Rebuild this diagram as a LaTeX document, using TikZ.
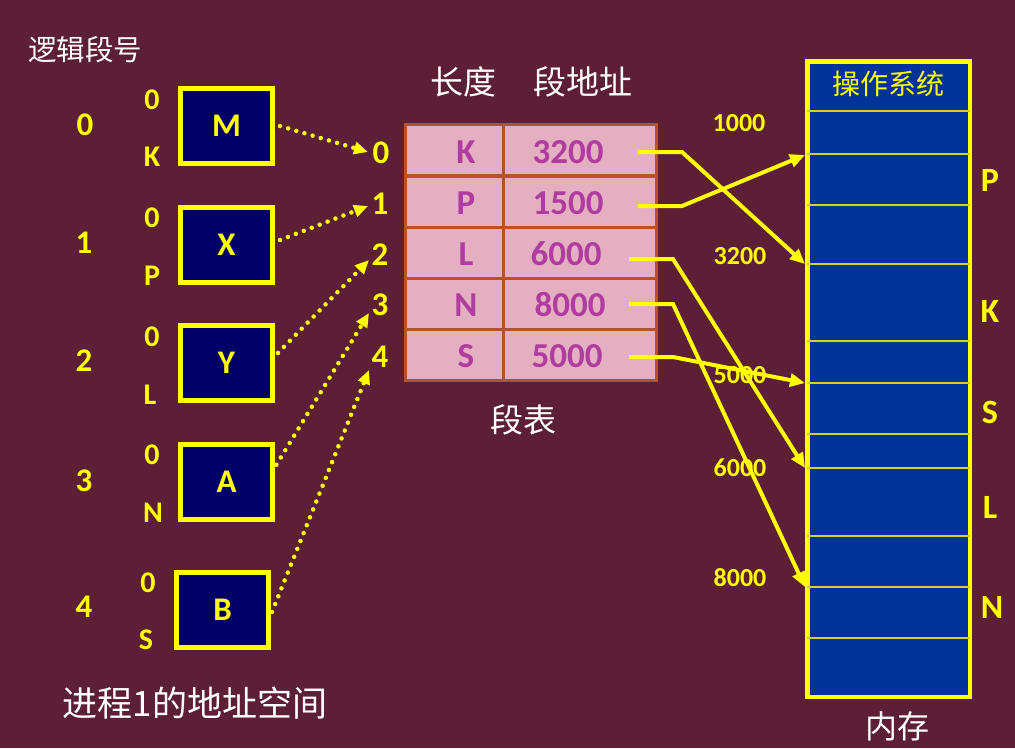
\documentclass[tikz,border=0pt]{standalone}
\usepackage{fontspec}
\setmainfont{Carlito}
\newfontfamily\cjk{Noto Sans CJK SC}
\usetikzlibrary{arrows.meta}
\definecolor{bg}{RGB}{92,31,53}
\definecolor{ylw}{RGB}{255,255,0}
\definecolor{navy}{RGB}{0,0,102}
\definecolor{memblue}{RGB}{0,51,153}
\definecolor{tabfill}{RGB}{228,175,193}
\definecolor{tabline}{RGB}{184,80,40}
\definecolor{tabtext}{RGB}{176,60,160}
\begin{document}
\begin{tikzpicture}[x=1pt,y=-1pt,
  lbl/.style={text=ylw,font=\fontsize{30}{30}\selectfont\bfseries,inner sep=0pt},
  idx/.style={text=ylw,font=\fontsize{33}{33}\selectfont\bfseries,inner sep=0pt},
  segbox/.style={draw=ylw,line width=5pt,fill=navy,minimum width=92pt,minimum height=75pt,
    inner sep=0pt,text=ylw,font=\fontsize{33}{33}\selectfont\bfseries},
  cell/.style={draw=tabline,line width=3pt,fill=tabfill,minimum height=51pt,inner sep=0pt},
  tabtxt/.style={text=tabtext,font=\fontsize{35}{35}\selectfont\bfseries,inner sep=0pt},
  addr/.style={text=ylw,font=\fontsize{26}{26}\selectfont\bfseries,inner sep=0pt},
  memlbl/.style={text=ylw,font=\fontsize{34}{34}\selectfont\bfseries,inner sep=0pt},
  cjkw/.style={text=white,inner sep=0pt},
  memline/.style={draw=ylw!80!memblue,line width=1.5pt},
  sarrow/.style={draw=ylw,line width=4pt,-{Triangle[length=15pt,width=13pt]}},
  darrow/.style={draw=ylw,line width=4.5pt,line cap=round,dash pattern=on 0pt off 8.5pt,
    -{Triangle[length=14pt,width=12pt]}}
]
\fill[bg] (0,0) rectangle (1015,748);
\useasboundingbox (0,0) rectangle (1015,748);

% titles
\node[cjkw,font=\cjk\fontsize{28.5}{28.5}\selectfont] (tLogic) at (85,50) {逻辑段号};
\node[cjkw,font=\cjk\fontsize{35}{35}\selectfont] (tProc) at (195,703) {进程1的地址空间};
\node[cjkw,font=\cjk\fontsize{33}{33}\selectfont] (tLen) at (463,82) {长度};
\node[cjkw,font=\cjk\fontsize{33}{33}\selectfont] (tBase) at (583,82) {段地址};
\node[cjkw,font=\cjk\fontsize{33}{33}\selectfont] (tTable) at (523,420) {段表};
\node[cjkw,font=\cjk\fontsize{32}{32}\selectfont] (tMem) at (897,726) {内存};

% left segments
\node[segbox] (M) at (226.5,126) {M};
\node[segbox] (X) at (226.5,245) {X};
\node[segbox] (Y) at (226.5,363) {Y};
\node[segbox] (A) at (226.5,482) {A};
\node[segbox] (B) at (222.5,610) {B};

\node[idx] (n0) at (85,125) {0};
\node[idx] (n1) at (84,243) {1};
\node[idx] (n2) at (84,361) {2};
\node[idx] (n3) at (84,481) {3};
\node[idx] (n4) at (84,607) {4};

\node[lbl] (z0) at (152,100) {0};
\node[lbl] (e0) at (152,157) {K};
\node[lbl] (z1) at (152,218) {0};
\node[lbl] (e1) at (152,276) {P};
\node[lbl] (z2) at (152,337) {0};
\node[lbl] (e2) at (150,395) {L};
\node[lbl] (z3) at (152,455) {0};
\node[lbl] (e3) at (153,513) {N};
\node[lbl] (z4) at (148,583) {0};
\node[lbl] (e4) at (146,640) {S};

% segment table
\foreach \r/\y in {0/150,1/201.5,2/252.5,3/303.5,4/355}{
  \node[cell,minimum width=98pt] (ca\r) at (454,\y) {};
  \node[cell,minimum width=153pt] (cb\r) at (579.5,\y) {};
}
\node[tabtxt] (lK) at (466,152) {K};
\node[tabtxt] (lP) at (466,203) {P};
\node[tabtxt] (lL) at (466,254) {L};
\node[tabtxt] (lN) at (466,305) {N};
\node[tabtxt] (lS) at (466,356) {S};
\node[tabtxt] (bK) at (568,152) {3200};
\node[tabtxt] (bP) at (568,203) {1500};
\node[tabtxt] (bL) at (566,254) {6000};
\node[tabtxt] (bN) at (570,305) {8000};
\node[tabtxt] (bS) at (567,356) {5000};

\node[idx] (i0) at (381,153) {0};
\node[idx] (i1) at (380,204) {1};
\node[idx] (i2) at (380,255) {2};
\node[idx] (i3) at (380,305) {3};
\node[idx] (i4) at (380,357) {4};

% memory
\node[draw=ylw,line width=4.5pt,fill=memblue,minimum width=162.5pt,minimum height=635.5pt,inner sep=0pt] (mem) at (888.5,379) {};
\foreach \yy in {111,154,205,264,341,383,434,468,536,587,638}{
  \draw[memline] (807,\yy) -- (970,\yy);
}
\node[text=ylw,font=\cjk\fontsize{28}{28}\selectfont,inner sep=0pt] (os) at (888,84) {操作系统};
\node[memlbl] (mP) at (990,180) {P};
\node[memlbl] (mK) at (990,311) {K};
\node[memlbl] (mS) at (990,412) {S};
\node[memlbl] (mL) at (990,507) {L};
\node[memlbl] (mN) at (992,607) {N};

\node[addr] (a1) at (739,123) {1000};
\node[addr] (a2) at (740,256) {3200};
\node[addr] (a3) at (740,375) {5000};
\node[addr] (a4) at (740,468) {6000};
\node[addr] (a5) at (740,578) {8000};

% arrow end points
\coordinate (sK) at (638,152);
\coordinate (sP) at (638,206);
\coordinate (sL) at (629,259);
\coordinate (sN) at (629,304);
\coordinate (sS) at (629,357);
\coordinate (mm3200) at (805,264);
\coordinate (mm1500) at (805,155);
\coordinate (mm6000) at (805,468);
\coordinate (mm8000) at (805,587);
\coordinate (mm5000) at (805,383);

\draw[sarrow] (sK) -- ++(44,0) -- (mm3200);
\draw[sarrow] (sP) -- ++(44,0) -- (mm1500);
\draw[sarrow] (sL) -- ++(44,0) -- (mm6000);
\draw[sarrow] (sN) -- ++(44,0) -- (mm8000);
\draw[sarrow] (sS) -- ++(44,0) -- (mm5000);

\coordinate (t0) at (368,152);
\coordinate (t1) at (368,206);
\coordinate (t2) at (369,260);
\coordinate (t3) at (369,313);
\coordinate (t4) at (369,370);

\draw[darrow] ([xshift=5pt]M.east) -- (t0);
\draw[darrow] ([shift={(5pt,5pt)}]X.east) -- (t1);
\draw[darrow] ([shift={(-3pt,4pt)}]Y.east) -- (t2);
\draw[darrow] ([shift={(-3pt,10pt)}]A.east) -- (t3);
\draw[darrow] ([shift={(1pt,-2pt)}]B.east) -- (t4);
\end{tikzpicture}
\end{document}
